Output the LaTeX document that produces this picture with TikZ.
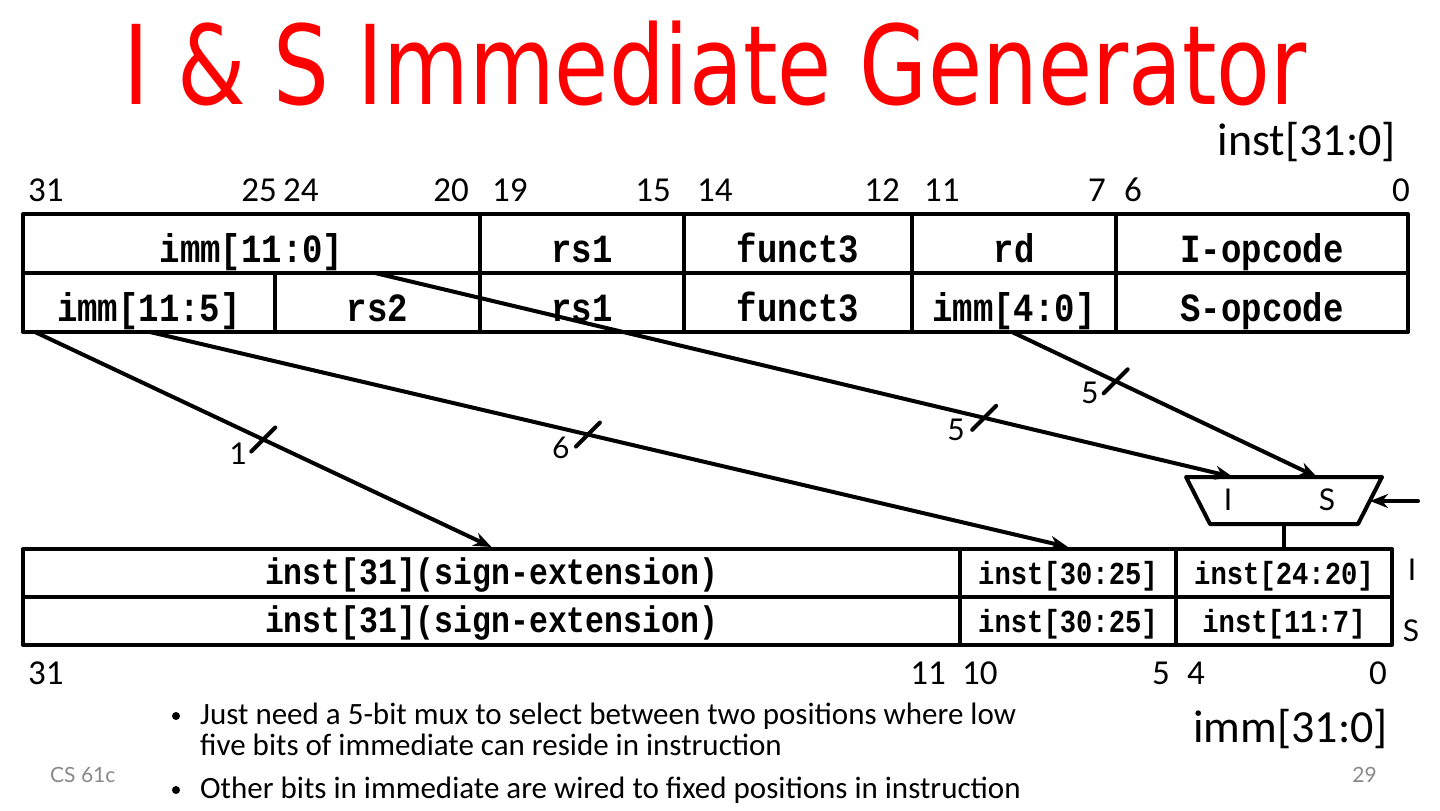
\documentclass[tikz,border=0pt]{standalone}
\usepackage{fontspec}
\setmainfont{Carlito}
\newfontfamily\titlefont[FakeStretch=0.8]{DejaVu Sans}
\newfontfamily\fieldfont[FakeStretch=0.85]{Liberation Mono}
\newfontfamily\latofont{Lato}
\usetikzlibrary{arrows.meta,calc}
\definecolor{titlered}{RGB}{255,0,0}
\definecolor{footgray}{RGB}{137,137,137}
\newcommand{\fsz}[1]{\fontsize{#1}{#1}\selectfont}

\begin{document}
\begin{tikzpicture}[x=1pt,y=-1pt,line join=round,line cap=round,>={Stealth[length=18pt,width=14pt]},
	cell/.style={draw,line width=4pt,minimum height=59pt,inner sep=0pt,text height=37pt,text depth=0pt,font=\fieldfont\bfseries\fsz{40}},
	lowcell/.style={draw,line width=4pt,minimum height=48pt,inner sep=0pt,text height=23pt,text depth=0pt,font=\fieldfont\bfseries\fsz{32}},
	bitnum/.style={inner sep=0pt,font=\fsz{35}},
	wire/.style={line width=4pt},
	wlabel/.style={inner sep=0pt,font=\latofont\fsz{30}},
	note/.style={anchor=base west,inner sep=0pt,font=\fsz{31}},
	foot/.style={inner sep=0pt,text=footgray,font=\latofont\fsz{21}}]
	\useasboundingbox (0,0) rectangle (1440,811);
	\node[anchor=base,inner sep=0pt,text depth=0pt,text=titlered,font=\titlefont\fsz{110}] (title) at (715,104) {I \& S Immediate Generator};
	\node[anchor=base east,inner sep=0pt,font=\fsz{46}] (instname) at (1396,155) {inst[31:0]};
	% bit positions of the instruction
	\node[bitnum,anchor=west] (t31) at (28,190) {31};
	\node[bitnum,anchor=east] (t25) at (277,190) {25};
	\node[bitnum,anchor=west] (t24) at (283,190) {24};
	\node[bitnum,anchor=east] (t20) at (469,190) {20};
	\node[bitnum,anchor=west] (t19) at (492,190) {19};
	\node[bitnum,anchor=east] (t15) at (671,190) {15};
	\node[bitnum,anchor=west] (t14) at (697,190) {14};
	\node[bitnum,anchor=east] (t12) at (900,190) {12};
	\node[bitnum,anchor=west] (t11) at (924,190) {11};
	\node[bitnum,anchor=east] (t7) at (1106,190) {7};
	\node[bitnum,anchor=west] (t6) at (1124,190) {6};
	\node[bitnum,anchor=east] (t0) at (1410,190) {0};
	% I-format row
	\node[cell,minimum width=457pt] (immI) at (251.5,243.5) {imm[11:0]};
	\node[cell,minimum width=204pt] (rsI) at (582,243.5) {rs1};
	\node[cell,minimum width=228pt] (fnI) at (798,243.5) {funct3};
	\node[cell,minimum width=204pt] (rdI) at (1014,243.5) {rd};
	\node[cell,minimum width=292pt] (opI) at (1262,243.5) {I-opcode};
	% S-format row
	\node[cell,minimum width=252pt] (immS) at (149,302.5) {imm[11:5]};
	\node[cell,minimum width=205pt] (rs2S) at (377.5,302.5) {rs2};
	\node[cell,minimum width=204pt] (rsS) at (582,302.5) {rs1};
	\node[cell,minimum width=228pt] (fnS) at (798,302.5) {funct3};
	\node[cell,minimum width=204pt] (immlo) at (1014,302.5) {imm[4:0]};
	\node[cell,minimum width=292pt] (opS) at (1262,302.5) {S-opcode};
	% immediate rows
	\node[lowcell,minimum width=937pt,font=\fieldfont\bfseries\fsz{37}] (signI) at (491.5,573) {inst[31](sign-extension)};
	\node[lowcell,minimum width=216pt] (hiI) at (1068,573) {inst[30:25]};
	\node[lowcell,minimum width=216pt] (loI) at (1284,573) {inst[24:20]};
	\node[lowcell,minimum width=937pt,font=\fieldfont\bfseries\fsz{37}] (signS) at (491.5,621) {inst[31](sign-extension)};
	\node[lowcell,minimum width=216pt] (hiS) at (1068,621) {inst[30:25]};
	\node[lowcell,minimum width=216pt] (loS) at (1284,621) {inst[11:7]};
	\node[wlabel] (rowI) at (1412,570) {I};
	\node[wlabel] (rowS) at (1411,631) {S};
	% bit positions of the immediate
	\node[bitnum,anchor=west] (b31) at (28,673) {31};
	\node[bitnum,anchor=east] (b11) at (946,673) {11};
	\node[bitnum,anchor=west] (b10) at (962,673) {10};
	\node[bitnum,anchor=east] (b5) at (1170,673) {5};
	\node[bitnum,anchor=west] (b4) at (1187,673) {4};
	\node[bitnum,anchor=east] (b0) at (1387,673) {0};
	\node[anchor=base east,inner sep=0pt,font=\fsz{46}] (immname) at (1388,742) {imm[31:0]};
	% mux
	\draw[wire] (1186,477) -- (1382,477) -- (1358,524) -- (1210,524) -- cycle;
	\node[wlabel] (muxIlbl) at (1228,500) {I};
	\node[wlabel] (muxSlbl) at (1327,500) {S};
	\coordinate (muxI) at (1233,477);
	\coordinate (muxS) at (1317,477);
	\coordinate (muxout) at (1284,524);
	\coordinate (muxsel) at (1370,501);
	\coordinate (selsrc) at (1418,501);
	\draw[wire] (muxout) -- (loI.north);
	\draw[wire,->] (selsrc) -- (muxsel);
	% wires with bus widths
	\coordinate (src1) at (35,332);
	\coordinate (src2) at (150,332);
	\coordinate (src3) at (375,273);
	\coordinate (src4) at (1012,332);
	\draw[wire,->] (src1) -- coordinate[pos=0.5] (k1) (signI.north);
	\draw[wire,->] (src2) -- coordinate[pos=0.477] (k2) (hiI.north);
	\draw[wire,->] (src3) -- coordinate[pos=0.71] (k3) (muxI);
	\draw[wire,->] (src4) -- coordinate[pos=0.34] (k4) (muxS);
	\draw[wire] (k1) +(-12,12) -- +(12,-12);
	\draw[wire] (k2) +(-12,12) -- +(12,-12);
	\draw[wire] (k3) +(-12,12) -- +(12,-12);
	\draw[wire] (k4) +(-12,12) -- +(12,-12);
	\node[wlabel] (w1) at ($(k1)+(-25,14)$) {1};
	\node[wlabel] (w2) at ($(k2)+(-27,13)$) {6};
	\node[wlabel] (w3) at ($(k3)+(-28,12)$) {5};
	\node[wlabel] (w4) at ($(k4)+(-26,12)$) {5};
	% notes
	\node[circle,fill,inner sep=0pt,minimum size=8pt] (dot1) at (176,716) {};
	\node[note] (note1a) at (200,724) {Just need a 5-bit mux to select between two positions where low};
	\node[note] (note1b) at (200,755) {five bits of immediate can reside in instruction};
	\node[circle,fill,inner sep=0pt,minimum size=8pt] (dot2) at (176,790) {};
	\node[note] (note2) at (200,798) {Other bits in immediate are wired to fixed positions in instruction};
	\node[foot,anchor=base west] (course) at (50,782) {CS 61c};
	\node[foot,anchor=base east] (page) at (1377,782) {29};
\end{tikzpicture}
\end{document}
